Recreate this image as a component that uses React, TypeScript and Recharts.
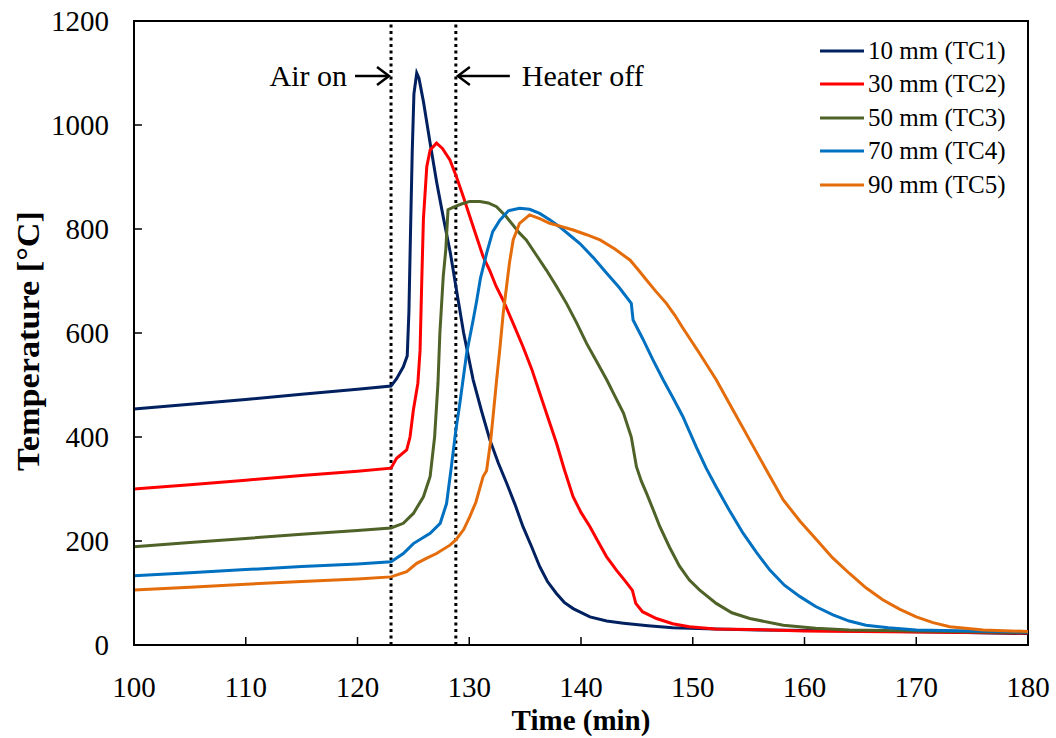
import React from "react"
import {
  Legend,
  Line,
  LineChart,
  ReferenceArea,
  ReferenceLine,
  XAxis,
  YAxis,
} from "recharts"

const xTicks = [100, 110, 120, 130, 140, 150, 160, 170, 180]
const yTicks = [0, 200, 400, 600, 800, 1000, 1200]
const airOnTime = 123
const heaterOffTime = 128.8

// [time (min), temperature (°C)]
const tc1 = [
  [100, 454], [105, 463], [110, 472], [115, 482], [120, 492], [123, 498], [123.5, 512],
  [124.1, 535], [124.45, 556], [124.6, 640], [124.75, 800], [124.9, 950], [125.05, 1060],
  [125.3, 1100], [125.5, 1090], [125.9, 1045], [126.5, 965], [127.1, 888], [127.7, 820],
  [128.3, 755], [128.8, 690], [129.5, 600], [130.35, 510], [131.1, 450], [131.85, 394],
  [132.6, 350], [133.35, 311], [134.1, 270], [134.8, 228], [135.6, 188], [136.3, 151],
  [137.0, 122], [137.8, 99], [138.5, 82], [139.3, 70], [140.8, 54], [142.3, 46],
  [143.8, 42], [146, 37], [148.2, 33], [152, 31], [156, 29], [165, 27], [172, 25], [180, 22],
]

const tc2 = [
  [100, 300], [105, 308], [110, 317], [115, 326], [120, 334], [123, 340], [123.5, 359],
  [124.4, 375], [124.7, 400], [125.0, 452], [125.4, 503], [125.6, 567], [125.75, 700],
  [125.9, 820], [126.2, 920], [126.5, 952], [127.07, 965], [127.6, 955], [128.27, 933],
  [128.86, 900], [129.5, 860], [130.05, 824], [130.65, 785], [131.24, 747], [131.84, 720],
  [132.4, 690], [133.03, 663], [133.9, 620], [134.82, 573], [135.6, 530], [136.31, 484],
  [137.0, 440], [137.81, 388], [138.5, 338], [139.29, 285], [140.0, 255], [140.79, 228],
  [141.5, 200], [142.28, 170], [143.2, 143], [144.0, 122], [144.6, 105], [144.9, 80],
  [145.5, 64], [146.75, 51], [148.2, 41], [149.7, 35], [152, 31], [155, 30], [160, 27],
  [170, 25], [180, 23],
]

const tc3 = [
  [100, 189], [105, 197], [110, 205], [115, 213], [120, 220], [123, 225], [124.1, 234],
  [125.0, 253], [125.9, 285], [126.5, 324], [126.9, 400], [127.2, 503], [127.37, 599],
  [127.67, 708], [127.9, 760], [128.1, 837], [128.7, 843], [129.3, 848], [130.05, 853],
  [130.95, 853], [131.7, 850], [132.44, 843], [133.3, 824], [134.5, 792], [135.1, 779],
  [136.0, 750], [136.9, 721], [137.8, 690], [138.7, 657], [139.6, 620], [140.5, 580],
  [141.4, 545], [142.3, 510], [143.0, 480], [143.8, 446], [144.5, 400], [144.96, 343],
  [145.4, 315], [145.86, 292], [146.5, 258], [147.05, 228], [147.9, 189], [148.8, 152],
  [149.7, 125], [150.6, 106], [152.1, 80], [153.5, 62], [155.1, 51], [158.1, 38],
  [161, 32], [164, 29], [170, 27], [180, 24],
]

const tc4 = [
  [100, 133], [105, 139], [110, 145], [115, 151], [120, 156], [123, 160], [124.1, 176],
  [125.0, 195], [126.5, 215], [127.4, 234], [127.97, 272], [128.4, 343], [128.8, 413],
  [129.16, 465], [129.76, 560], [130.35, 625], [130.65, 660], [131.0, 705], [131.55, 753],
  [132.1, 795], [132.74, 817], [133.5, 835], [134.5, 840], [135.4, 838], [136.3, 830],
  [137.2, 818], [138.1, 804], [139.0, 788], [139.9, 772], [141.1, 745], [142.3, 715],
  [143.4, 688], [144.5, 657], [144.66, 625], [145.5, 590], [146.45, 548], [147.35, 510],
  [148.24, 475], [149.1, 440], [150.33, 380], [151.2, 340], [152.1, 304], [153.3, 258],
  [154.5, 215], [155.7, 178], [156.9, 144], [158.2, 115], [159.6, 93], [161, 74],
  [162.55, 58], [164, 46], [165.5, 38], [167.5, 33], [170, 29], [175, 27], [180, 25],
]

const tc5 = [
  [100, 106], [105, 111], [110, 117], [115, 122], [120, 127], [123, 131], [124.4, 141],
  [125.3, 157], [126.2, 167], [127.07, 176], [128.27, 192], [128.8, 202], [129.5, 222],
  [130.05, 247], [130.6, 275], [131.24, 324], [131.55, 335], [131.9, 390], [132.13, 439],
  [132.45, 510], [132.74, 570], [133.05, 640], [133.34, 690], [133.6, 735], [133.93, 779],
  [134.5, 811], [135.4, 827], [136.3, 820], [137.2, 811], [138.2, 805], [139.3, 798],
  [140.5, 789], [141.7, 779], [143.0, 762], [144.4, 740], [145.1, 722], [145.86, 702],
  [146.7, 680], [147.64, 657], [148.4, 634], [149.13, 609], [150.6, 561], [152.1, 510],
  [153.6, 452], [155.1, 394], [156.6, 336], [158.1, 279], [159.6, 238], [161.1, 202],
  [162.5, 168], [164.0, 138], [165.5, 110], [167.0, 87], [168.5, 69], [170, 54],
  [171.5, 43], [173, 35], [176, 29], [180, 26],
]

const seriesNames = ["10 mm (TC1)", "30 mm (TC2)", "50 mm (TC3)", "70 mm (TC4)", "90 mm (TC5)"]
const seriesColors = ["#002060", "#FF0000", "#4F6228", "#0070C0", "#E46C0A"]
const seriesPoints = [tc1, tc2, tc3, tc4, tc5]

const font = "'Liberation Serif', 'Times New Roman', serif"

const toRows = (pts: number[][]) => pts.map(([t, v]) => ({ t, v }))

function Arrow({ from, to, y }: { from: number; to: number; y: number }) {
  const d = to > from ? 1 : -1
  return (
    <g stroke="#000" strokeWidth={2.5} fill="none">
      <line x1={from} y1={y} x2={to} y2={y} />
      <polyline points={`${to - d * 12},${y - 9} ${to},${y} ${to - d * 12},${y + 9}`} />
    </g>
  )
}

function AirOnNote(props: any) {
  const { x, y } = props.viewBox
  return (
    <g>
      <text x={x - 44} y={y + 65} textAnchor="end" fontFamily={font} fontSize={30} fill="#000">
        Air on
      </text>
      <Arrow from={x - 36} to={x - 2} y={y + 55} />
    </g>
  )
}

function HeaterOffNote(props: any) {
  const { x, y } = props.viewBox
  return (
    <g>
      <Arrow from={x + 54} to={x + 2} y={y + 55} />
      <text x={x + 66} y={y + 65} textAnchor="start" fontFamily={font} fontSize={30} fill="#000">
        Heater off
      </text>
    </g>
  )
}

function YTitle(props: any) {
  const { x, y, height } = props.viewBox
  const cx = x + 28
  const cy = y + height / 2 + 8
  return (
    <text
      x={0}
      y={0}
      transform={`translate(${cx}, ${cy}) rotate(-90) scale(1.07, 1)`}
      textAnchor="middle"
      dominantBaseline="central"
      fontFamily={font}
      fontWeight="bold"
      fontSize={32}
      fill="#000"
    >
      Temperature [°C]
    </text>
  )
}

function XTitle(props: any) {
  const { x, y, width } = props.viewBox
  return (
    <text
      x={x + width / 2}
      y={y + 85}
      textAnchor="middle"
      fontFamily={font}
      fontWeight="bold"
      fontSize={29}
      fill="#000"
    >
      Time (min)
    </text>
  )
}

function LegendBox({ payload }: any) {
  return (
    <div style={{ fontFamily: font, fontSize: 25, color: "#000" }}>
      {(payload || []).map((item: any) => (
        <div key={item.value} style={{ display: "flex", alignItems: "center", height: 33.5 }}>
          <svg width={44} height={6} style={{ marginRight: 4 }}>
            <line x1={0} y1={3} x2={44} y2={3} stroke={item.color} strokeWidth={3} />
          </svg>
          <span style={{ whiteSpace: "nowrap" }}>{item.value}</span>
        </div>
      ))}
    </div>
  )
}

export default function App() {
  const tickStyle = { fontFamily: font, fontSize: 29, fill: "#000" }
  return (
    <div style={{ position: "absolute", left: 0, top: 0, width: 1056, height: 738, background: "#fff" }}>
      <LineChart width={1056} height={738} margin={{ top: 21, right: 28, bottom: 0, left: 0 }}>
        <XAxis
          dataKey="t"
          type="number"
          domain={[100, 180]}
          ticks={xTicks}
          height={93}
          tickSize={-8}
          tickMargin={39}
          tick={tickStyle}
          axisLine={{ stroke: "#000", strokeWidth: 2 }}
          tickLine={{ stroke: "#000", strokeWidth: 1.5 }}
          label={(p: any) => <XTitle {...p} />}
        />
        <YAxis
          type="number"
          domain={[0, 1200]}
          ticks={yTicks}
          width={134}
          tickSize={-8}
          tickMargin={33}
          tick={tickStyle}
          axisLine={{ stroke: "#000", strokeWidth: 2 }}
          tickLine={{ stroke: "#000", strokeWidth: 1.5 }}
          label={(p: any) => <YTitle {...p} />}
        />
        <ReferenceArea x1={100} x2={180} y1={0} y2={1200} fill="none" fillOpacity={0} stroke="#000" strokeWidth={2} />
        <ReferenceLine
          x={airOnTime}
          stroke="#000"
          strokeWidth={3}
          strokeDasharray="3 3.5"
          label={(p: any) => <AirOnNote {...p} />}
        />
        <ReferenceLine
          x={heaterOffTime}
          stroke="#000"
          strokeWidth={3}
          strokeDasharray="3 3.5"
          label={(p: any) => <HeaterOffNote {...p} />}
        />
        {seriesPoints.map((pts, i) => (
          <Line
            key={seriesNames[i]}
            data={toRows(pts)}
            dataKey="v"
            name={seriesNames[i]}
            type="linear"
            stroke={seriesColors[i]}
            strokeWidth={3}
            dot={false}
            activeDot={false}
            isAnimationActive={false}
          />
        ))}
        <Legend
          layout="horizontal"
          verticalAlign="middle"
          content={<LegendBox />}
          wrapperStyle={{ left: 820, top: 34, width: 220 }}
        />
      </LineChart>
    </div>
  )
}
